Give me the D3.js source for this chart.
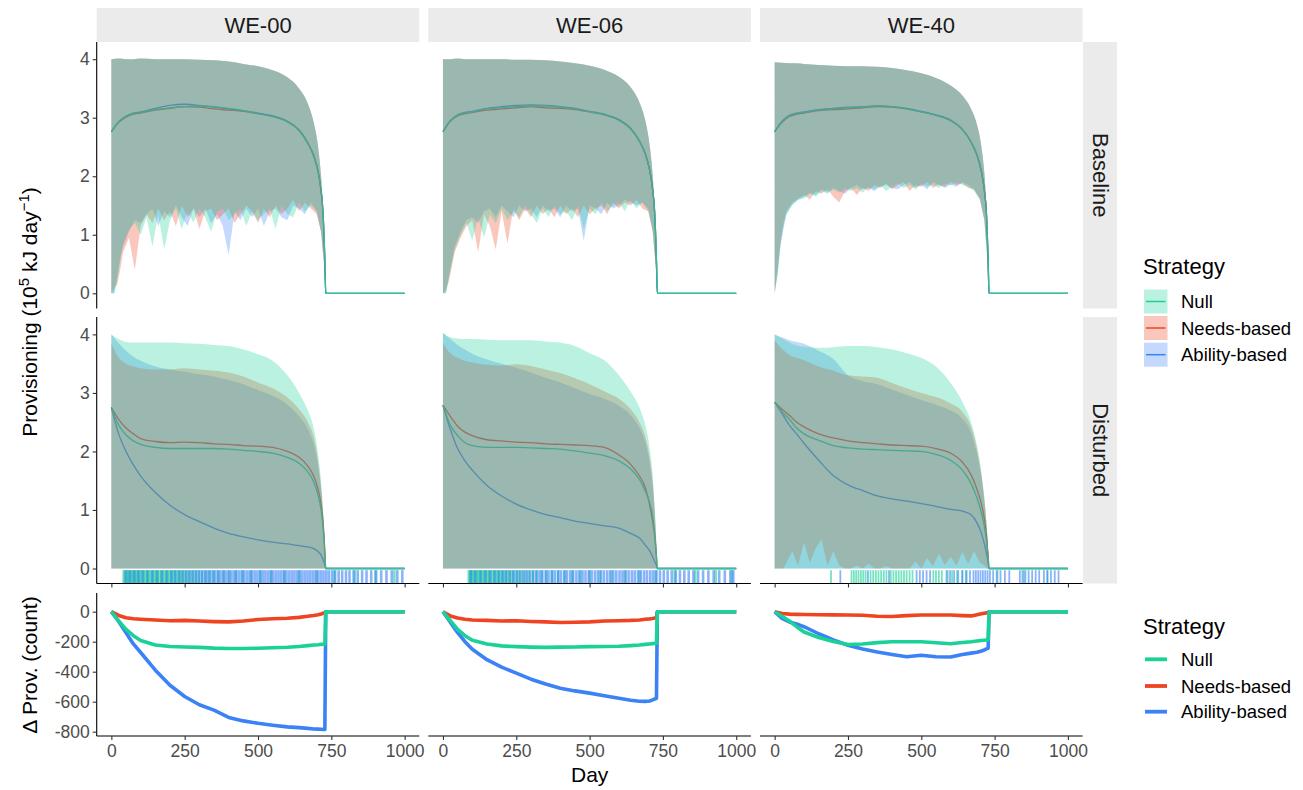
<!DOCTYPE html>
<html><head><meta charset="utf-8">
<script src="https://cdn.jsdelivr.net/npm/d3@7"></script>
<style>body{margin:0;background:#fff}</style>
</head><body><svg id="c" width="1303" height="790"></svg>
<script>
// ---------------- DATA ----------------
const columns = ["WE-00", "WE-06", "WE-40"];
const rows = ["Baseline", "Disturbed"];
const strategies = ["Null", "Needs-based", "Ability-based"];
const colors = ["#1BD197", "#EE4422", "#3B82F6"];

const xTicks = [0, 250, 500, 750, 1000];
const yTicksProv = [0, 1, 2, 3, 4];
const yTicksDelta = [0, -200, -400, -600, -800];

// day grid for smooth series
const days = [0,25,50,75,100,150,200,250,300,350,400,450,500,550,600,640,670,690,705,715,722,728,731,1000];
// day grid for jagged lower bounds
const lowDays = [0,10,20,30,40,60,80,100,120,140,160,180,200,220,240,260,280,300,320,340,360,380,400,420,440,460,480,500,520,540,560,580,600,620,640,660,680,700,715,725,731,1000];
const zeroDays = [0, 1000];
const zeroLow = [0, 0];

// Baseline: upper bounds
const baseHi00 = [4.0,4.01,4.0,4.0,4.01,4.0,4.0,4.0,3.99,3.98,3.96,3.92,3.88,3.81,3.69,3.5,3.24,2.92,2.5,2.0,1.4,0.5,0,0];
const baseHi06 = [4.0,4.0,4.01,4.0,4.0,4.0,4.0,3.99,3.99,3.98,3.96,3.93,3.89,3.82,3.7,3.52,3.26,2.95,2.52,2.02,1.42,0.5,0,0];
const baseHi40 = [3.95,3.94,3.93,3.93,3.92,3.9,3.89,3.88,3.88,3.87,3.85,3.81,3.76,3.68,3.55,3.38,3.15,2.88,2.5,2.05,1.48,0.55,0,0];
// Baseline: means
const baseMean00Null    = [2.76,2.93,3.02,3.07,3.09,3.14,3.17,3.19,3.2,3.19,3.16,3.12,3.07,3.02,2.93,2.78,2.56,2.35,2.08,1.75,1.35,0.55,0,0];
const baseMean00Needs   = [2.76,2.92,3.01,3.06,3.08,3.13,3.16,3.19,3.18,3.15,3.13,3.11,3.07,3.03,2.94,2.79,2.57,2.35,2.08,1.75,1.35,0.55,0,0];
const baseMean00Ability = [2.76,2.93,3.03,3.08,3.1,3.16,3.21,3.23,3.21,3.18,3.15,3.12,3.08,3.03,2.94,2.79,2.56,2.35,2.08,1.75,1.35,0.55,0,0];
const baseMean06Null    = [2.76,2.95,3.04,3.08,3.1,3.15,3.17,3.19,3.2,3.2,3.18,3.15,3.1,3.05,2.96,2.81,2.6,2.38,2.1,1.77,1.37,0.55,0,0];
const baseMean06Needs   = [2.76,2.94,3.03,3.07,3.09,3.13,3.15,3.17,3.19,3.17,3.16,3.14,3.1,3.05,2.96,2.81,2.6,2.38,2.1,1.77,1.37,0.55,0,0];
const baseMean06Ability = [2.76,2.95,3.05,3.09,3.11,3.16,3.19,3.21,3.22,3.21,3.19,3.16,3.11,3.06,2.97,2.82,2.6,2.38,2.1,1.77,1.37,0.55,0,0];
const baseMean40Null    = [2.76,2.93,3.03,3.07,3.09,3.13,3.15,3.17,3.18,3.2,3.19,3.15,3.1,3.04,2.95,2.8,2.58,2.36,2.08,1.76,1.37,0.55,0,0];
const baseMean40Needs   = [2.76,2.92,3.02,3.06,3.08,3.12,3.14,3.15,3.17,3.19,3.18,3.15,3.1,3.04,2.95,2.8,2.58,2.36,2.08,1.76,1.37,0.55,0,0];
const baseMean40Ability = [2.76,2.94,3.04,3.08,3.1,3.14,3.16,3.18,3.19,3.2,3.19,3.16,3.11,3.05,2.96,2.8,2.58,2.36,2.08,1.76,1.37,0.55,0,0];
// Baseline: lower bounds (on lowDays)
const baseLow00Null    = [0,0,0.2,0.55,0.85,1.1,1.2,1.0,1.3,0.8,1.35,0.75,1.25,1.45,1.1,1.4,1.2,1.45,1.3,1.05,1.4,1.45,1.25,1.35,1.45,1.15,1.4,1.25,1.35,1.45,1.1,1.5,1.35,1.3,1.55,1.4,1.5,1.4,1.05,0.55,0,0];
const baseLow00Needs   = [0,0.1,0.15,0.4,0.7,0.95,0.4,1.15,1.35,1.2,1.45,1.25,1.4,1.15,1.5,1.3,1.45,1.1,1.4,1.45,1.25,1.35,1.45,1.2,1.35,1.5,1.4,1.2,1.45,1.3,1.5,1.35,1.45,1.6,1.4,1.55,1.45,1.35,1.05,0.5,0,0];
const baseLow00Ability = [0,0,0.3,0.6,0.8,1.05,1.25,1.2,1.35,1.45,1.15,1.4,1.3,1.5,1.3,1.15,1.45,1.3,1.45,1.2,1.35,1.15,0.65,1.4,1.25,1.45,1.3,1.45,1.15,1.4,1.45,1.3,1.25,1.5,1.45,1.35,1.55,1.4,1.05,0.5,0,0];
const baseLow06Null    = [0,0,0.25,0.5,0.75,1.0,1.2,0.9,1.3,0.95,1.35,1.2,1.45,1.25,1.4,1.3,1.5,1.35,1.2,1.45,1.3,1.5,1.35,1.4,1.25,1.5,1.1,1.45,1.35,1.55,1.4,1.5,1.55,1.4,1.6,1.45,1.55,1.4,1.05,0.5,0,0];
const baseLow06Needs   = [0,0.05,0.2,0.45,0.7,0.95,1.15,1.25,0.7,1.35,1.15,0.75,1.4,0.85,1.45,1.25,1.45,1.3,1.5,1.35,1.45,1.3,1.5,1.35,1.45,1.3,1.5,1.35,1.45,1.5,1.35,1.55,1.45,1.55,1.5,1.6,1.45,1.4,1.05,0.5,0,0];
const baseLow06Ability = [0,0,0.3,0.55,0.8,1.05,1.25,1.3,1.2,1.4,1.45,1.3,1.5,1.4,1.3,1.5,1.4,1.45,1.3,1.5,1.4,1.45,1.3,1.5,1.4,1.45,0.9,1.5,1.45,1.35,1.55,1.45,1.5,1.6,1.55,1.5,1.55,1.45,1.1,0.5,0,0];
const baseLow40Null    = [0,0.3,0.85,1.15,1.35,1.5,1.6,1.62,1.7,1.65,1.75,1.7,1.78,1.72,1.8,1.75,1.8,1.72,1.82,1.78,1.85,1.75,1.82,1.88,1.8,1.85,1.78,1.88,1.82,1.86,1.8,1.88,1.84,1.9,1.85,1.82,1.75,1.6,1.25,0.6,0,0];
const baseLow40Needs   = [0,0.4,0.9,1.2,1.4,1.55,1.62,1.68,1.6,1.75,1.7,1.78,1.65,1.55,1.75,1.8,1.68,1.8,1.75,1.85,1.8,1.88,1.78,1.85,1.9,1.75,1.85,1.82,1.9,1.8,1.86,1.82,1.9,1.85,1.88,1.8,1.78,1.6,1.25,0.6,0,0];
const baseLow40Ability = [0,0.35,0.8,1.1,1.35,1.52,1.6,1.65,1.72,1.68,1.78,1.72,1.8,1.75,1.7,1.8,1.85,1.78,1.8,1.75,1.82,1.85,1.8,1.78,1.85,1.9,1.8,1.85,1.78,1.9,1.85,1.8,1.86,1.82,1.9,1.85,1.78,1.62,1.25,0.6,0,0];

// Disturbed: upper bounds
const distHi00Null    = [4.0,3.92,3.87,3.86,3.86,3.86,3.86,3.85,3.84,3.82,3.8,3.74,3.66,3.55,3.3,3.0,2.7,2.4,1.95,1.5,1.0,0.4,0,0];
const distHi00Needs   = [3.85,3.6,3.5,3.45,3.42,3.4,3.4,3.42,3.4,3.38,3.35,3.28,3.18,3.08,2.92,2.72,2.5,2.25,1.85,1.4,0.95,0.35,0,0];
const distHi00Ability = [4.0,3.85,3.72,3.62,3.55,3.45,3.4,3.36,3.32,3.28,3.22,3.15,3.05,2.95,2.8,2.6,2.38,2.12,1.75,1.35,0.9,0.35,0,0];
const distHi06Null    = [4.02,3.95,3.93,3.92,3.92,3.91,3.9,3.9,3.9,3.88,3.86,3.8,3.68,3.56,3.3,3.02,2.75,2.45,2.05,1.6,1.05,0.4,0,0];
const distHi06Needs   = [3.85,3.68,3.6,3.55,3.52,3.48,3.47,3.49,3.46,3.4,3.34,3.25,3.15,3.03,2.9,2.72,2.5,2.25,1.9,1.5,1.0,0.4,0,0];
const distHi06Ability = [4.03,3.92,3.82,3.74,3.67,3.57,3.5,3.43,3.35,3.26,3.18,3.08,2.98,2.9,2.78,2.62,2.4,2.15,1.8,1.4,0.95,0.35,0,0];
const distHi40Null    = [4.0,3.93,3.86,3.81,3.79,3.77,3.78,3.8,3.8,3.78,3.74,3.68,3.6,3.45,3.17,2.85,2.5,2.1,1.65,1.2,0.8,0.3,0,0];
const distHi40Needs   = [3.9,3.75,3.65,3.6,3.56,3.45,3.38,3.3,3.28,3.26,3.17,3.08,3.0,2.93,2.82,2.68,2.42,2.05,1.6,1.2,0.8,0.3,0,0];
const distHi40Ability = [4.0,3.95,3.9,3.87,3.84,3.72,3.58,3.3,3.2,3.15,3.06,2.97,2.88,2.8,2.7,2.56,2.32,1.95,1.55,1.15,0.75,0.28,0,0];
// Disturbed: means
const distMean00Null    = [2.75,2.45,2.28,2.18,2.12,2.07,2.05,2.05,2.05,2.05,2.04,2.02,2.0,1.97,1.9,1.8,1.65,1.48,1.25,1.0,0.7,0.25,0,0];
const distMean00Needs   = [2.75,2.55,2.4,2.3,2.22,2.17,2.15,2.16,2.15,2.13,2.12,2.1,2.09,2.07,2.0,1.9,1.75,1.58,1.35,1.1,0.78,0.3,0,0];
const distMean00Ability = [2.75,2.3,2.0,1.77,1.58,1.3,1.08,0.92,0.8,0.69,0.6,0.54,0.49,0.45,0.42,0.39,0.37,0.34,0.29,0.23,0.15,0.06,0,0];
const distMean06Null    = [2.79,2.45,2.27,2.15,2.1,2.07,2.07,2.07,2.06,2.05,2.04,2.01,1.97,1.93,1.84,1.7,1.52,1.32,1.12,0.9,0.6,0.2,0,0];
const distMean06Needs   = [2.79,2.6,2.43,2.33,2.27,2.2,2.18,2.16,2.15,2.13,2.12,2.11,2.1,2.07,1.94,1.78,1.58,1.38,1.08,0.8,0.55,0.2,0,0];
const distMean06Ability = [2.79,2.38,2.05,1.84,1.68,1.42,1.24,1.1,1.0,0.92,0.87,0.81,0.77,0.73,0.69,0.6,0.52,0.4,0.3,0.2,0.12,0.05,0,0];
const distMean40Null    = [2.84,2.68,2.55,2.4,2.3,2.19,2.1,2.06,2.04,2.03,2.02,2.01,2.0,1.95,1.85,1.68,1.45,1.2,0.95,0.72,0.48,0.18,0,0];
const distMean40Needs   = [2.84,2.72,2.62,2.5,2.42,2.3,2.23,2.18,2.15,2.13,2.11,2.1,2.09,2.05,1.97,1.82,1.6,1.35,1.1,0.85,0.58,0.2,0,0];
const distMean40Ability = [2.84,2.65,2.45,2.3,2.14,1.85,1.59,1.43,1.33,1.24,1.19,1.15,1.11,1.06,1.01,0.98,0.92,0.78,0.6,0.42,0.26,0.1,0,0];
// Disturbed: lower bound of Needs-based in WE-40 (others are 0)
const distLow40Needs = [0,0,0,0,0.1,0.3,0.05,0.45,0.1,0.35,0.5,0.05,0.3,0.05,0,0,0.05,0,0.08,0,0,0.04,0,0,0,0,0.12,0,0.18,0.04,0.25,0.06,0.2,0.05,0.28,0.08,0.3,0.1,0.05,0,0,0];

// Δ provisioning (count)
const delta00Null    = [0,-62,-118,-160,-192,-222,-232,-235,-238,-243,-245,-245,-244,-240,-237,-232,-226,-222,-220,-218,-217,-215,0,0];
const delta00Needs   = [0,-25,-40,-47,-50,-55,-60,-58,-62,-66,-68,-62,-52,-47,-44,-38,-30,-25,-20,-15,-10,-7,0,0];
const delta00Ability = [0,-65,-140,-215,-272,-390,-490,-565,-620,-656,-705,-728,-744,-757,-768,-773,-778,-782,-783,-784,-785,-785,0,0];
const delta06Null    = [0,-60,-118,-160,-190,-215,-228,-233,-236,-238,-236,-235,-233,-232,-230,-226,-222,-218,-215,-213,-212,-210,0,0];
const delta06Needs   = [0,-28,-42,-50,-55,-58,-62,-60,-65,-68,-72,-70,-68,-62,-60,-58,-55,-50,-48,-45,-42,-40,0,0];
const delta06Ability = [0,-70,-140,-200,-250,-320,-370,-410,-450,-482,-510,-528,-543,-560,-577,-590,-597,-598,-595,-588,-582,-578,0,0];
const delta40Null    = [0,-30,-62,-100,-135,-172,-199,-219,-215,-206,-200,-200,-200,-207,-214,-205,-200,-195,-192,-190,-189,-188,0,0];
const delta40Needs   = [0,-12,-16,-18,-19,-20,-21,-22,-24,-30,-32,-26,-22,-22,-22,-26,-28,-20,-14,-10,-8,-7,0,0];
const delta40Ability = [0,-45,-68,-82,-100,-147,-188,-224,-248,-268,-285,-300,-290,-300,-302,-285,-276,-270,-262,-255,-248,-244,0,0];

// rug (days of disturbance events) per panel
const rugNull00 = [42,46,52,57,61,66,71,75,80,85,89,95,99,104,110,115,121,126,131,137,142,148,153,158,164,170,175,181,186,192,198,203,209,215,221,228,234,240,247,254,262,270,279,288,298,309,321,334,349,365,383,402,424,448,476,508,545,590,640,700,760,830,900,965];
const rugAbility00 = [50,63,78,92,107,123,140,156,172,189,205,218,231,243,255,266,277,288,298,308,318,327,336,345,354,363,372,381,390,399,408,417,426,435,444,453,462,471,480,489,498,507,516,525,534,543,552,561,570,579,588,597,606,615,624,633,642,651,660,669,678,687,696,705,714,723,732,741,752,763,775,787,800,812,826,840,855,870,886,903,920,938,956,975,992];
const rugNull06 = [88,92,97,101,106,111,116,120,125,131,136,141,146,152,157,163,168,174,180,186,192,199,205,212,219,226,234,242,251,260,270,281,293,306,320,336,353,372,393,416,441,469,500,535,575,620,670,725,790,860,930,985];
const rugAbility06 = [95,110,128,145,160,176,190,203,215,228,240,252,263,275,286,297,308,318,329,339,350,360,371,381,392,402,413,423,434,444,455,465,476,486,497,507,518,528,539,549,560,570,581,591,602,612,623,633,644,654,665,675,686,696,707,717,728,740,753,766,780,794,808,823,838,854,870,887,905,923,942,961,980,990];
const rugNull40 = [192,262,270,278,286,294,302,310,327,336,345,354,363,372,381,396,405,414,423,432,441,450,460,470,541,550,560,570,590,605,622,640,655,760,850,930];
const rugAbility40 = [224,318,390,484,495,506,518,530,586,598,612,626,640,652,666,678,686,694,702,710,718,726,734,745,757,770,785,800,836,845,855,866,878,890,902,918,930,942,955,968];

// ---------------- ASSEMBLY ----------------
const provPanels = [
  [ // Baseline
    { mean:[baseMean00Null,baseMean00Needs,baseMean00Ability], hi:[baseHi00,baseHi00,baseHi00],
      lo:[[lowDays,baseLow00Null],[lowDays,baseLow00Needs],[lowDays,baseLow00Ability]] },
    { mean:[baseMean06Null,baseMean06Needs,baseMean06Ability], hi:[baseHi06,baseHi06,baseHi06],
      lo:[[lowDays,baseLow06Null],[lowDays,baseLow06Needs],[lowDays,baseLow06Ability]] },
    { mean:[baseMean40Null,baseMean40Needs,baseMean40Ability], hi:[baseHi40,baseHi40,baseHi40],
      lo:[[lowDays,baseLow40Null],[lowDays,baseLow40Needs],[lowDays,baseLow40Ability]] }
  ],
  [ // Disturbed
    { mean:[distMean00Null,distMean00Needs,distMean00Ability], hi:[distHi00Null,distHi00Needs,distHi00Ability],
      lo:[[zeroDays,zeroLow],[zeroDays,zeroLow],[zeroDays,zeroLow]] },
    { mean:[distMean06Null,distMean06Needs,distMean06Ability], hi:[distHi06Null,distHi06Needs,distHi06Ability],
      lo:[[zeroDays,zeroLow],[zeroDays,zeroLow],[zeroDays,zeroLow]] },
    { mean:[distMean40Null,distMean40Needs,distMean40Ability], hi:[distHi40Null,distHi40Needs,distHi40Ability],
      lo:[[zeroDays,zeroLow],[lowDays,distLow40Needs],[zeroDays,zeroLow]] }
  ]
];
const deltaPanels = [
  [delta00Null, delta00Needs, delta00Ability],
  [delta06Null, delta06Needs, delta06Ability],
  [delta40Null, delta40Needs, delta40Ability]
];
const rugPanels = [
  [rugNull00, rugAbility00], [rugNull06, rugAbility06], [rugNull40, rugAbility40]
];
const rugWidth = [2.6, 2.6, 1.8];

// ---------------- LAYOUT ----------------
const FONT = '"Liberation Sans", Arial, Helvetica, sans-serif';
const svg = d3.select("#c").attr("font-family", FONT);
const colLeft = [96.7, 428.3, 760], panelW = 322.6;
const rowTop = [42, 317, 593], rowBot = [308.5, 583.5, 736];
const yScales = [
  d3.scaleLinear().domain([0, 4]).range([293.3, 59.2]),
  d3.scaleLinear().domain([0, 4]).range([568.5, 334.4]),
  d3.scaleLinear().domain([0, -800]).range([611.7, 731.7])
];
const xScales = colLeft.map(l => d3.scaleLinear().domain([-50, 1050]).range([l, l + panelW]));

function ribbonPath(x, y, hi, loD, loV) {
  const up = d3.line().x((d, i) => x(days[i])).y(d => y(d)).curve(d3.curveMonotoneX)(hi);
  const lowPts = loD.map((d, i) => [x(d), y(loV[i])]).reverse();
  const low = d3.line()(lowPts);
  return up + "L" + low.slice(1) + "Z";
}

// strips
columns.forEach((c, i) => {
  svg.append("rect").attr("x", colLeft[i]).attr("y", 8).attr("width", panelW).attr("height", 34).attr("fill", "#ebebeb");
  svg.append("text").attr("x", colLeft[i] + panelW / 2).attr("y", 25).attr("text-anchor", "middle")
    .attr("dominant-baseline", "central").attr("font-size", 22).attr("fill", "#1a1a1a").text(c);
});
rows.forEach((r, j) => {
  svg.append("rect").attr("x", 1083).attr("y", rowTop[j]).attr("width", 34).attr("height", rowBot[j] - rowTop[j]).attr("fill", "#ebebeb");
  svg.append("text").attr("transform", `translate(1100,${(rowTop[j] + rowBot[j]) / 2}) rotate(90)`)
    .attr("text-anchor", "middle").attr("dominant-baseline", "central").attr("font-size", 22).attr("fill", "#1a1a1a").text(r);
});

// provisioning panels
const lineOrder = [1, 2, 0], ribbonOrder = [2, 1, 0];
provPanels.forEach((rowP, r) => {
  const y = yScales[r];
  rowP.forEach((p, c) => {
    const x = xScales[c];
    const g = svg.append("g");
    const ln = d3.line().x((d, i) => x(days[i])).y(d => y(d)).curve(d3.curveMonotoneX);
    lineOrder.forEach(s => {
      g.append("path").attr("d", ln(p.mean[s])).attr("fill", "none").attr("stroke", colors[s]).attr("stroke-width", 1.3);
    });
    ribbonOrder.forEach(s => {
      g.append("path").attr("d", ribbonPath(x, y, p.hi[s], p.lo[s][0], p.lo[s][1]))
        .attr("fill", colors[s]).attr("fill-opacity", 0.3).attr("stroke", "none");
    });
    if (r === 1) {
      const rg = svg.append("g");
      [[0, rugPanels[c][0]], [2, rugPanels[c][1]]].forEach(([s, arr]) => {
        rg.selectAll(null).data(arr).enter().append("line")
          .attr("x1", d => x(d)).attr("x2", d => x(d))
          .attr("y1", rowBot[1]).attr("y2", rowBot[1] - 13.3)
          .attr("stroke", colors[s]).attr("stroke-opacity", 0.6).attr("stroke-width", rugWidth[c]);
      });
    }
  });
});

// delta panels
deltaPanels.forEach((p, c) => {
  const x = xScales[c], y = yScales[2];
  const ln = d3.line().x((d, i) => x(days[i])).y(d => y(d));
  lineOrder.forEach(s => {
    svg.append("path").attr("d", ln(p[s])).attr("fill", "none").attr("stroke", colors[s])
      .attr("stroke-width", 3.6).attr("stroke-linejoin", "round");
  });
});

// axes
function styleAxis(g) {
  g.attr("font-family", FONT).attr("font-size", 17.5);
  g.select(".domain").remove();
  g.selectAll(".tick line").attr("stroke", "#333").attr("stroke-width", 1.1);
  g.selectAll(".tick text").attr("fill", "#4d4d4d");
}
[0, 1, 2].forEach(r => {
  svg.append("line").attr("x1", colLeft[0]).attr("x2", colLeft[0]).attr("y1", rowTop[r]).attr("y2", rowBot[r])
    .attr("stroke", "#000").attr("stroke-width", 1.1);
  const ax = d3.axisLeft(yScales[r]).tickValues(r < 2 ? yTicksProv : yTicksDelta).tickSize(4).tickPadding(3)
    .tickFormat(d => String(d));
  const g = svg.append("g").attr("transform", `translate(${colLeft[0]},0)`).call(ax);
  styleAxis(g);
});
[1, 2].forEach(r => {
  colLeft.forEach((l, c) => {
    svg.append("line").attr("x1", l).attr("x2", l + panelW).attr("y1", rowBot[r]).attr("y2", rowBot[r])
      .attr("stroke", "#000").attr("stroke-width", 1.1);
    const ax = d3.axisBottom(xScales[c]).tickValues(xTicks).tickSize(4).tickPadding(5)
      .tickFormat(r === 2 ? (d => String(d)) : (() => ""));
    const g = svg.append("g").attr("transform", `translate(0,${rowBot[r]})`).call(ax);
    styleAxis(g);
  });
});

// axis titles
svg.append("text").attr("x", colLeft[0] + (colLeft[2] + panelW - colLeft[0]) / 2).attr("y", 782)
  .attr("text-anchor", "middle").attr("font-size", 21).attr("fill", "#000").text("Day");
const yt = svg.append("text").attr("transform", "translate(37,312) rotate(-90)").attr("text-anchor", "middle")
  .attr("font-size", 21).attr("fill", "#000");
yt.append("tspan").text("Provisioning (10");
yt.append("tspan").attr("dy", -8).attr("font-size", 15).text("5");
yt.append("tspan").attr("dy", 8).text(" kJ day");
yt.append("tspan").attr("dy", -8).attr("font-size", 15).text("\u22121");
yt.append("tspan").attr("dy", 8).text(")");
svg.append("text").attr("transform", "translate(37,665) rotate(-90)").attr("text-anchor", "middle")
  .attr("font-size", 21).attr("fill", "#000").text("\u0394 Prov. (count)");

// legend 1 (fill + line)
svg.append("text").attr("x", 1143).attr("y", 274).attr("font-size", 22).attr("fill", "#000").text("Strategy");
const key1Y = [289.5, 316, 342.7];
strategies.forEach((s, i) => {
  svg.append("rect").attr("x", 1144).attr("y", key1Y[i]).attr("width", 23.5).attr("height", 24)
    .attr("fill", colors[i]).attr("fill-opacity", 0.3);
  svg.append("line").attr("x1", 1146).attr("x2", 1165.5).attr("y1", key1Y[i] + 12).attr("y2", key1Y[i] + 12)
    .attr("stroke", colors[i]).attr("stroke-width", 1.5);
  svg.append("text").attr("x", 1181).attr("y", key1Y[i] + 12 + 6.6).attr("font-size", 18.5).attr("fill", "#000").text(s);
});
// legend 2 (lines)
svg.append("text").attr("x", 1143).attr("y", 634).attr("font-size", 22).attr("fill", "#000").text("Strategy");
const key2Y = [659.3, 686, 711.7];
strategies.forEach((s, i) => {
  svg.append("line").attr("x1", 1145).attr("x2", 1167).attr("y1", key2Y[i]).attr("y2", key2Y[i])
    .attr("stroke", colors[i]).attr("stroke-width", 3.8);
  svg.append("text").attr("x", 1181).attr("y", key2Y[i] + 6.6).attr("font-size", 18.5).attr("fill", "#000").text(s);
});
</script>
</body></html>
